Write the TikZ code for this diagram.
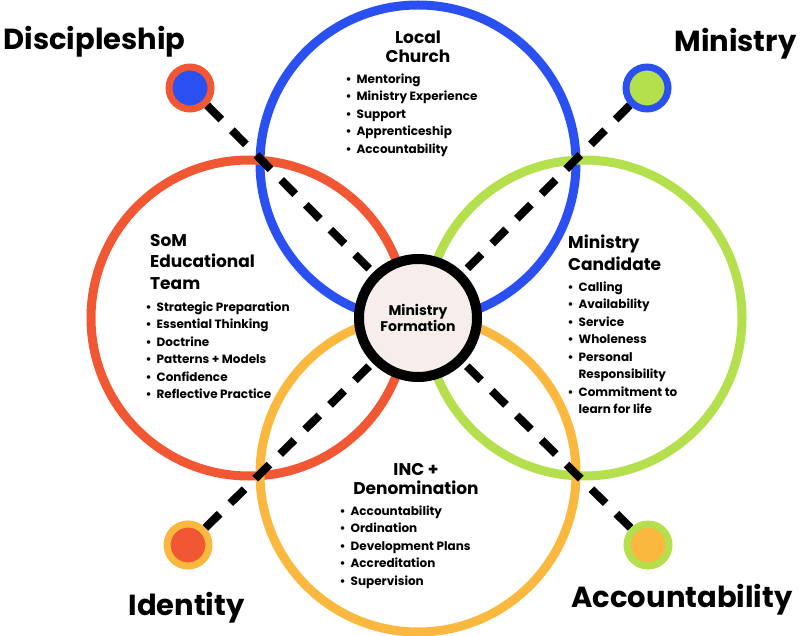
\documentclass[tikz,border=0pt]{standalone}
\usepackage{fontspec}
\setmainfont{Poppins}
\definecolor{cblue}{HTML}{2B50F2}
\definecolor{cred}{HTML}{F25734}
\definecolor{cgreen}{HTML}{B3E04C}
\definecolor{cyel}{HTML}{FBB83E}
\definecolor{cpink}{HTML}{F7EEEC}
\begin{document}
\begin{tikzpicture}[x=1pt,y=-1pt,
  big/.style={draw=#1,line width=9pt,circle,minimum size=316pt,inner sep=0pt},
  dot/.style={circle,line width=7pt,minimum size=42pt,inner sep=0pt},
  dash line/.style={line width=8pt,dash pattern=on 20pt off 15pt},
  ttl/.style={font=\bfseries\fontsize{17}{19}\selectfont,align=center},
  tline/.style={font=\bfseries\fontsize{17}{19}\selectfont,anchor=base west,inner sep=0pt},
  lst/.style={font=\bfseries\fontsize{12}{17.5}\selectfont,align=left,anchor=north west},
  lbl/.style={font=\bfseries\fontsize{29}{32}\selectfont}]
\useasboundingbox (0,0) rectangle (800,636);
\node[big=cblue] (blue) at (418,163) {};
\node[big=cred] (red) at (249,318) {};
\node[big=cgreen] (green) at (584,318) {};
\node[big=cyel] (yel) at (418,474) {};
\node[dot,draw=cred,fill=cblue] (d1) at (190,88) {};
\node[dot,draw=cblue,fill=cgreen] (d2) at (647,88) {};
\node[dot,draw=cyel,fill=cred] (d3) at (188,545) {};
\node[dot,draw=cgreen,fill=cyel] (d4) at (648,545) {};
\coordinate (c) at (418,318);
\draw[dash line] (d1) -- (c);
\draw[dash line] (d2) -- (c);
\draw[dash line] (d3) -- (c);
\draw[dash line] (d4) -- (c);
\node[circle,draw=black,line width=10pt,fill=cpink,minimum size=118pt,inner sep=0pt,
  font=\bfseries\fontsize{14}{16}\selectfont,align=center] (mf) at (c) {Ministry\\Formation};
\node[lbl,anchor=west] (l1) at (0,42) {Discipleship};
\node[lbl,anchor=east] (l2) at (800,44) {Ministry};
\node[lbl,anchor=west] (l3) at (125,608) {Identity};
\node[lbl,anchor=east] (l4) at (796,600) {Accountability};
\node[ttl] (t1) at (418,47) {Local\\Church};
\node[lst] (b1) at (342,70) {•\ \ Mentoring\\•\ \ Ministry Experience\\•\ \ Support\\•\ \ Apprenticeship\\•\ \ Accountability};
\node[tline] (t2a) at (150,247) {SoM};
\node[tline] (t2b) at (150,268) {Educational};
\node[tline] (t2c) at (150,289) {Team};
\node[lst] (b2) at (142,298) {•\ \ Strategic Preparation\\•\ \ Essential Thinking\\•\ \ Doctrine\\•\ \ Patterns + Models\\•\ \ Confidence\\•\ \ Reflective Practice};
\node[tline] (t3a) at (568,249) {Ministry};
\node[tline] (t3b) at (568,270) {Candidate};
\node[lst,align=left] (b3) at (564,278) {•\ \ Calling\\•\ \ Availability\\•\ \ Service\\•\ \ Wholeness\\•\ \ Personal\\\phantom{•\ \ }Responsibility\\•\ \ Commitment to\\\phantom{•\ \ }learn for life};
\node[ttl] (t4) at (416,479) {INC +\\Denomination};
\node[lst] (b4) at (336,502) {•\ \ Accountability\\•\ \ Ordination\\•\ \ Development Plans\\•\ \ Accreditation\\•\ \ Supervision};
\end{tikzpicture}
\end{document}
